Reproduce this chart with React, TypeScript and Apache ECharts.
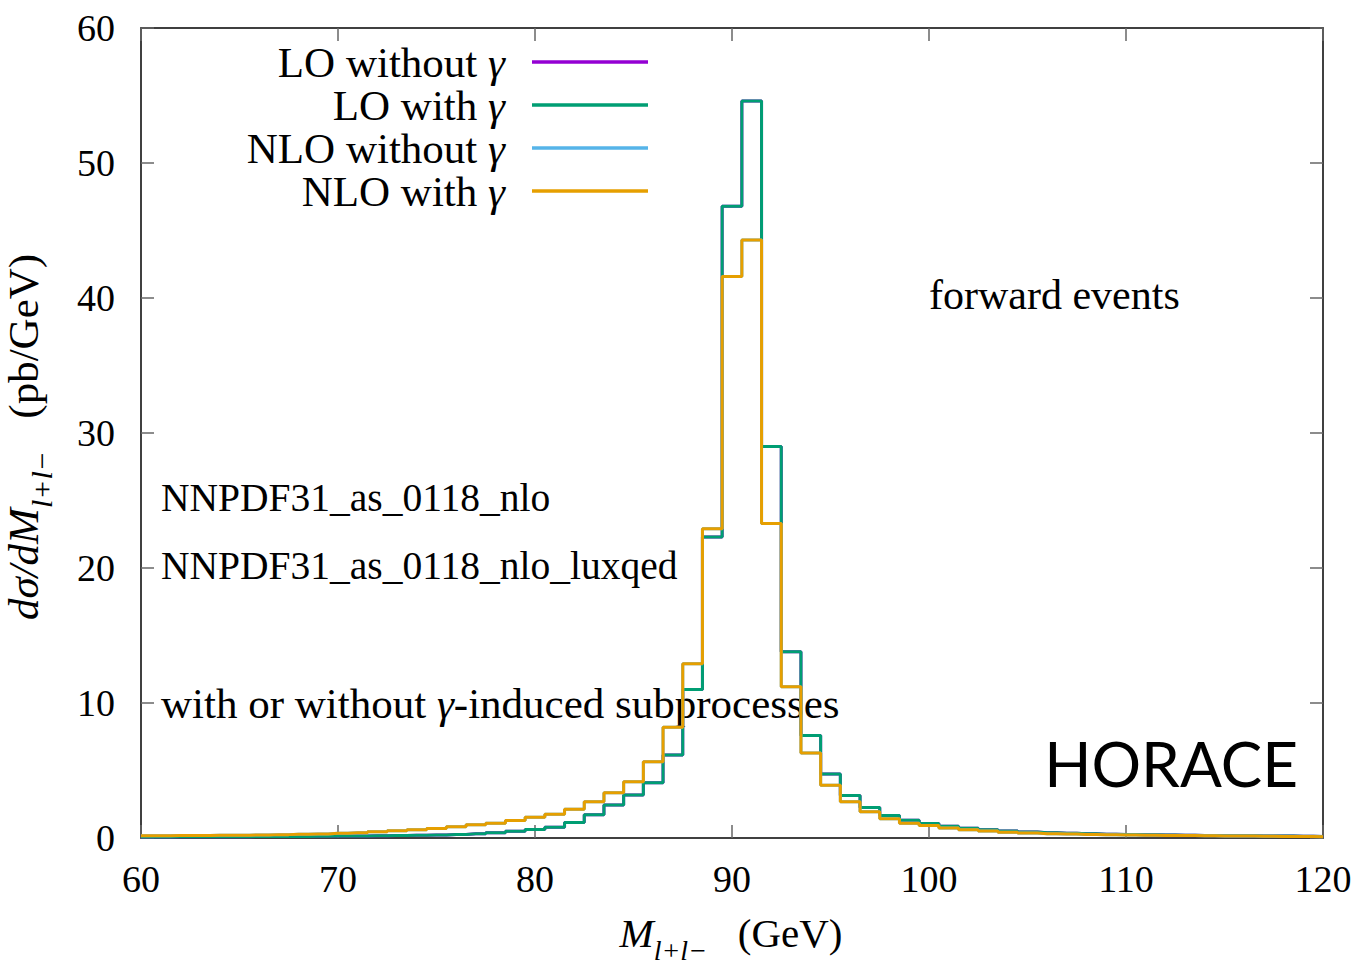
import React, { useEffect, useRef } from "react";
import * as echarts from "echarts";

// Bin centres (GeV), 1 GeV bins
const massBins = [
  60, 61, 62, 63, 64, 65, 66, 67, 68, 69,
  70, 71, 72, 73, 74, 75, 76, 77, 78, 79,
  80, 81, 82, 83, 84, 85, 86, 87, 88, 89,
  90, 91, 92, 93, 94, 95, 96, 97, 98, 99,
  100, 101, 102, 103, 104, 105, 106, 107, 108, 109,
  110, 111, 112, 113, 114, 115, 116, 117, 118, 119,
  120,
];

const loWithoutGamma = [
  0.08, 0.08, 0.09, 0.09, 0.1, 0.1, 0.11, 0.11, 0.12, 0.13,
  0.14, 0.15, 0.16, 0.18, 0.2, 0.22, 0.26, 0.31, 0.38, 0.5,
  0.63, 0.8, 1.15, 1.72, 2.44, 3.19, 4.1, 6.15, 11.0, 22.3,
  46.8, 54.6, 29.0, 13.8, 7.6, 4.75, 3.15, 2.26, 1.67, 1.32,
  1.07, 0.87, 0.73, 0.62, 0.52, 0.44, 0.39, 0.35, 0.31, 0.28,
  0.26, 0.24, 0.22, 0.2, 0.19, 0.17, 0.16, 0.15, 0.14, 0.13,
  0.12,
];

const loWithGamma = [
  0.08, 0.08, 0.09, 0.09, 0.1, 0.1, 0.11, 0.11, 0.12, 0.13,
  0.14, 0.15, 0.16, 0.18, 0.2, 0.22, 0.26, 0.31, 0.38, 0.5,
  0.63, 0.8, 1.15, 1.72, 2.44, 3.19, 4.1, 6.15, 11.0, 22.3,
  46.8, 54.6, 29.0, 13.8, 7.6, 4.75, 3.15, 2.26, 1.67, 1.32,
  1.07, 0.87, 0.73, 0.62, 0.52, 0.44, 0.39, 0.35, 0.31, 0.28,
  0.26, 0.24, 0.22, 0.2, 0.19, 0.17, 0.16, 0.15, 0.14, 0.13,
  0.12,
];

const nloWithoutGamma = [
  0.16, 0.17, 0.18, 0.19, 0.2, 0.21, 0.23, 0.25, 0.27, 0.3,
  0.35, 0.39, 0.46, 0.53, 0.61, 0.7, 0.83, 0.98, 1.1, 1.3,
  1.54, 1.76, 2.13, 2.69, 3.36, 4.17, 5.65, 8.2, 12.9, 22.9,
  41.6, 44.3, 23.3, 11.2, 6.3, 3.9, 2.68, 1.94, 1.42, 1.1,
  0.93, 0.75, 0.62, 0.52, 0.43, 0.37, 0.32, 0.29, 0.26, 0.24,
  0.22, 0.2, 0.19, 0.18, 0.17, 0.15, 0.14, 0.13, 0.12, 0.11,
  0.1,
];

const nloWithGamma = [
  0.16, 0.17, 0.18, 0.19, 0.2, 0.21, 0.23, 0.25, 0.27, 0.3,
  0.35, 0.39, 0.46, 0.53, 0.61, 0.7, 0.83, 0.98, 1.1, 1.3,
  1.54, 1.76, 2.13, 2.69, 3.36, 4.17, 5.65, 8.2, 12.9, 22.9,
  41.6, 44.3, 23.3, 11.2, 6.3, 3.9, 2.68, 1.94, 1.42, 1.1,
  0.93, 0.75, 0.62, 0.52, 0.43, 0.37, 0.32, 0.29, 0.26, 0.24,
  0.22, 0.2, 0.19, 0.18, 0.17, 0.15, 0.14, 0.13, 0.12, 0.11,
  0.1,
];

const seriesNames = ["LO without γ", "LO with γ", "NLO without γ", "NLO with γ"];
const legendLabels = ["LO without ", "LO with ", "NLO without ", "NLO with "];
const seriesColors = ["#9400d3", "#009e73", "#56b4e9", "#e69f00"];
const seriesValues = [loWithoutGamma, loWithGamma, nloWithoutGamma, nloWithGamma];

const pdfLabels = ["NNPDF31_as_0118_nlo", "NNPDF31_as_0118_nlo_luxqed"];

const SERIF = '"Liberation Serif", "Times New Roman", serif';

export default function App() {
  const ref = useRef<HTMLDivElement>(null);

  useEffect(() => {
    if (!ref.current) return;
    const chart = echarts.init(ref.current, undefined, { renderer: "svg" });

    const axisLine = { show: true, onZero: false, lineStyle: { color: "#000", width: 1.5 } };
    const axisTick = { show: true, inside: true, length: 13, lineStyle: { color: "#666", width: 1.5 } };

    const legendRows = [62, 105, 148, 191];
    const graphics: any[] = [];
    legendLabels.forEach((lab, i) => {
      graphics.push({
        type: "text",
        x: 505,
        y: legendRows[i],
        style: {
          text: `{t|${lab}}{g|γ}`,
          align: "right",
          verticalAlign: "middle",
          textAlign: "right",
          textVerticalAlign: "middle",
          rich: {
            t: { fontFamily: SERIF, fontSize: 43, fill: "#000", color: "#000" },
            g: { fontFamily: SERIF, fontSize: 43, fontStyle: "italic", fill: "#000", color: "#000" },
          },
        },
      });
      graphics.push({
        type: "line",
        shape: { x1: 532, y1: legendRows[i], x2: 648, y2: legendRows[i] },
        style: { stroke: seriesColors[i], lineWidth: 3.5 },
      });
    });

    const plainText = (text: string, x: number, y: number, size: number) => ({
      type: "text",
      x,
      y,
      style: {
        text,
        fontFamily: SERIF,
        fontSize: size,
        fill: "#000",
        align: "left",
        verticalAlign: "middle",
        textAlign: "left",
        textVerticalAlign: "middle",
      },
    });

    graphics.push(plainText("forward events", 929, 295, 42));
    graphics.push(plainText(pdfLabels[0], 161, 498, 39.5));
    graphics.push(plainText(pdfLabels[1], 161, 566, 39.5));
    graphics.push({
      type: "text",
      x: 161,
      y: 703,
      style: {
        text: "{t|with or without }{g|γ}{t|-induced subprocesses}",
        align: "left",
        verticalAlign: "middle",
        textAlign: "left",
        textVerticalAlign: "middle",
        rich: {
          t: { fontFamily: SERIF, fontSize: 43, fill: "#000", color: "#000" },
          g: { fontFamily: SERIF, fontSize: 43, fontStyle: "italic", fill: "#000", color: "#000" },
        },
      },
    });
    graphics.push({
      type: "text",
      x: 1298,
      y: 763,
      style: {
        text: "HORACE",
        fontFamily: "Lato, 'Open Sans', sans-serif",
        fontSize: 62,
        fill: "#000",
        align: "right",
        verticalAlign: "middle",
        textAlign: "right",
        textVerticalAlign: "middle",
      },
    });

    // x-axis title
    graphics.push({
      type: "text",
      x: 731,
      y: 912,
      style: {
        text: "{m|M}{s|l+l−}{n|   (GeV)}",
        align: "center",
        verticalAlign: "top",
        textAlign: "center",
        textVerticalAlign: "top",
        rich: {
          m: { fontFamily: SERIF, fontSize: 41, fontStyle: "italic", lineHeight: 41, verticalAlign: "top", fill: "#000", color: "#000" },
          s: { fontFamily: SERIF, fontSize: 28, fontStyle: "italic", lineHeight: 52, verticalAlign: "bottom", fill: "#000", color: "#000" },
          n: { fontFamily: SERIF, fontSize: 41, lineHeight: 41, verticalAlign: "top", fill: "#000", color: "#000" },
        },
      },
    });

    // y-axis title (rotated)
    graphics.push({
      type: "text",
      x: 2,
      y: 437,
      rotation: Math.PI / 2,
      style: {
        text: "{m|dσ/dM}{s|l+l−}{n|   (pb/GeV)}",
        align: "center",
        verticalAlign: "top",
        textAlign: "center",
        textVerticalAlign: "top",
        rich: {
          m: { fontFamily: SERIF, fontSize: 43, fontStyle: "italic", lineHeight: 43, verticalAlign: "top", fill: "#000", color: "#000" },
          s: { fontFamily: SERIF, fontSize: 30, fontStyle: "italic", lineHeight: 54, verticalAlign: "bottom", fill: "#000", color: "#000" },
          n: { fontFamily: SERIF, fontSize: 43, lineHeight: 43, verticalAlign: "top", fill: "#000", color: "#000" },
        },
      },
    });

    chart.setOption({
      animation: false,
      backgroundColor: "#fff",
      grid: { left: 141, top: 28, right: 35, bottom: 131, containLabel: false },
      xAxis: [
        {
          type: "value",
          min: 60,
          max: 120,
          interval: 10,
          position: "bottom",
          axisLine,
          axisTick,
          splitLine: { show: false },
          axisLabel: { color: "#000", fontSize: 38, fontFamily: SERIF, margin: 22 },
        },
        {
          type: "value",
          min: 60,
          max: 120,
          interval: 10,
          position: "top",
          axisLine,
          axisTick,
          splitLine: { show: false },
          axisLabel: { show: false },
        },
      ],
      yAxis: [
        {
          type: "value",
          min: 0,
          max: 60,
          interval: 10,
          position: "left",
          axisLine,
          axisTick,
          splitLine: { show: false },
          axisLabel: { color: "#000", fontSize: 38, fontFamily: SERIF, margin: 26 },
        },
        {
          type: "value",
          min: 0,
          max: 60,
          interval: 10,
          position: "right",
          axisLine,
          axisTick,
          splitLine: { show: false },
          axisLabel: { show: false },
        },
      ],
      series: seriesValues.map((vals, i) => ({
        type: "line",
        name: seriesNames[i],
        step: "middle",
        symbol: "none",
        showSymbol: false,
        xAxisIndex: 0,
        yAxisIndex: 0,
        z: 3 + i,
        data: massBins.map((m, j) => [m, vals[j]]),
        lineStyle: { color: seriesColors[i], width: 3 },
        itemStyle: { color: seriesColors[i] },
      })),
      graphic: graphics,
    });

    return () => chart.dispose();
  }, []);

  return (
    <div
      ref={ref}
      style={{ position: "absolute", left: 0, top: 0, width: 1358, height: 969, background: "#fff" }}
    />
  );
}
